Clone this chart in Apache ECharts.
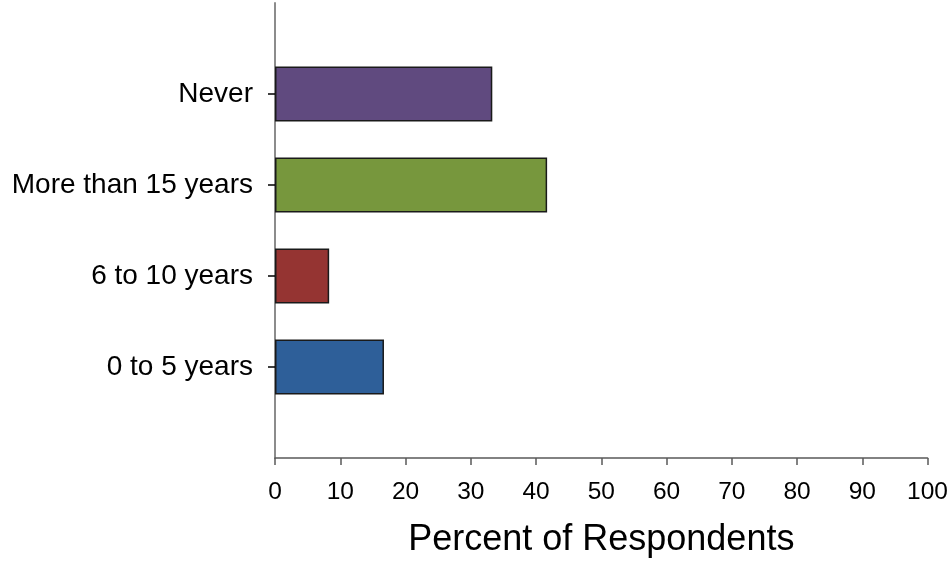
<!DOCTYPE html>
<html>
<head>
<meta charset="utf-8">
<script src="https://cdn.jsdelivr.net/npm/echarts@6/dist/echarts.min.js"></script>
<style>
  html, body { margin: 0; padding: 0; background: #fff; }
  #chart { width: 951px; height: 563px; }
</style>
</head>
<body>
<div id="chart"></div>
<script>
// Years category, bottom to top; blank slots pad the axis ends
const categories = ['', '0 to 5 years', '6 to 10 years', 'More than 15 years', 'Never', ''];
const percents = [null, 16.7, 8.3, 41.7, 33.3, null];
const barColors = ['#ffffff', '#2e5f99', '#953432', '#77973d', '#604a7f', '#ffffff'];
const xTicks = [0, 10, 20, 30, 40, 50, 60, 70, 80, 90, 100];

const FONT = '"Liberation Sans", Arial, sans-serif';
const chart = echarts.init(document.getElementById('chart'));

chart.setOption({
  animation: false,
  backgroundColor: '#ffffff',
  grid: { left: 275, right: 21, top: 3, bottom: 101, containLabel: false },
  xAxis: {
    type: 'value',
    min: xTicks[0],
    max: xTicks[xTicks.length - 1],
    interval: xTicks[1] - xTicks[0],
    splitLine: { show: false },
    axisLine: { show: true, lineStyle: { color: '#595959', width: 1.5 } },
    axisTick: { show: true, length: 7, lineStyle: { color: '#595959', width: 1.5 } },
    axisLabel: { color: '#000', fontFamily: FONT, fontSize: 24.5, margin: 22 },
    name: 'Percent of Respondents',
    nameLocation: 'middle',
    nameGap: 64,
    nameTextStyle: { color: '#000', fontFamily: FONT, fontSize: 36 }
  },
  yAxis: {
    type: 'category',
    data: categories,
    boundaryGap: false,
    axisLine: { show: true, lineStyle: { color: '#8c8c8c', width: 2 } },
    axisTick: {
      show: true,
      length: 7,
      interval: (i) => categories[i] !== '',
      lineStyle: { color: '#000', width: 1.5 }
    },
    axisLabel: { color: '#000', fontFamily: FONT, fontSize: 28, margin: 22, interval: 0 },
    splitLine: { show: false }
  },
  series: [{
    type: 'bar',
    barWidth: 55,
    data: percents.map((v, i) => ({
      value: v,
      itemStyle: { color: barColors[i], borderColor: '#1a1a1a', borderWidth: 1.5 }
    }))
  }]
});
</script>
</body>
</html>
